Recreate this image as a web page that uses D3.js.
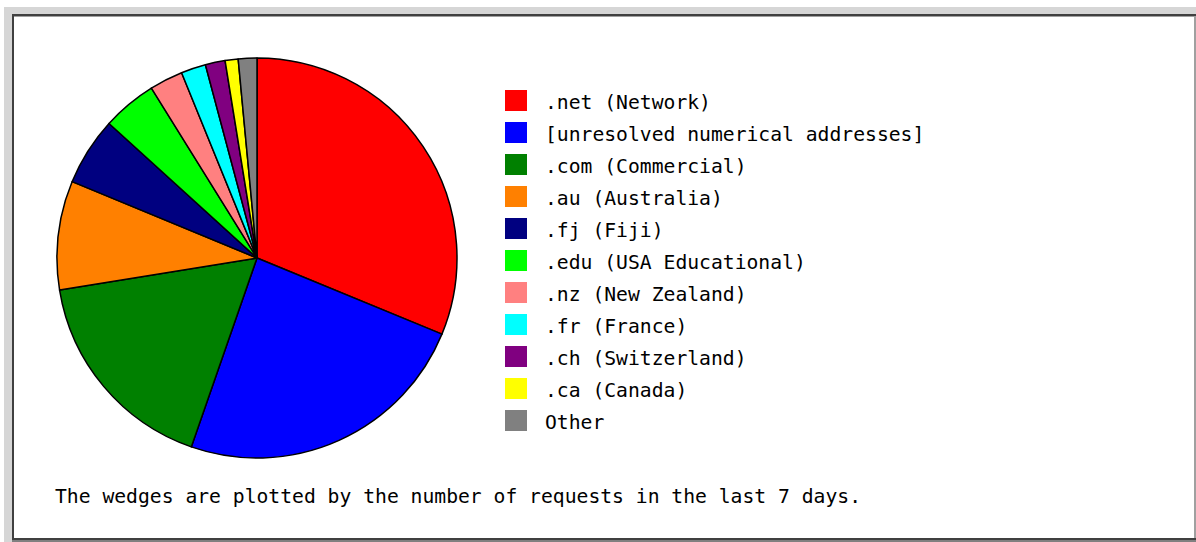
<!DOCTYPE html>
<html>
<head>
<meta charset="utf-8">
<script src="https://cdn.jsdelivr.net/npm/d3@7"></script>
<style>
  html, body { margin: 0; padding: 0; background: #fff; }
  svg { display: block; }
  text { font-family: "DejaVu Sans Mono", "Liberation Mono", monospace; }
</style>
</head>
<body>
<svg id="chart" width="1196" height="542"></svg>
<script>
const categories = [".net (Network)", "[unresolved numerical addresses]", ".com (Commercial)",
  ".au (Australia)", ".fj (Fiji)", ".edu (USA Educational)", ".nz (New Zealand)",
  ".fr (France)", ".ch (Switzerland)", ".ca (Canada)", "Other"];
const requests = [3120, 2410, 1710, 880, 550, 440, 270, 200, 160, 105, 150];
const colors = ["#ff0000", "#0000ff", "#008000", "#ff8000", "#000080", "#00ff00",
  "#ff8080", "#00ffff", "#800080", "#ffff00", "#808080"];
const caption = "The wedges are plotted by the number of requests in the last 7 days.";

const svg = d3.select("#chart");

// frame
svg.append("rect").attr("x", 0).attr("y", 0).attr("width", 1196).attr("height", 542).attr("fill", "#fff");
svg.append("rect").attr("x", 4).attr("y", 7).attr("width", 1192).attr("height", 535).attr("fill", "#d6d6d6");
svg.append("rect").attr("x", 12).attr("y", 14).attr("width", 1184).attr("height", 528).attr("fill", "#404040");
svg.append("rect").attr("x", 14).attr("y", 16.5).attr("width", 1180).attr("height", 521.5).attr("fill", "#fff");
svg.append("line").attr("x1", 1195).attr("x2", 1195).attr("y1", 16).attr("y2", 538)
  .attr("stroke", "#a0a0a0").attr("stroke-width", 2);
svg.append("rect").attr("x", 12).attr("y", 540).attr("width", 1184).attr("height", 2).attr("fill", "#808080");

// pie
const cx = 257, cy = 258, r = 200;
const pie = d3.pie().sort(null).value(d => d)(requests);
const arc = d3.arc().innerRadius(0).outerRadius(r);
const g = svg.append("g").attr("transform", `translate(${cx},${cy})`);
g.selectAll("path").data(pie).enter().append("path")
  .attr("d", arc)
  .attr("fill", (d, i) => colors[i])
  .attr("stroke", "#000")
  .attr("stroke-width", 1.5)
  .attr("stroke-linejoin", "round");

// legend
const y = d3.scalePoint().domain(categories).range([101, 421]);
const lg = svg.append("g");
const rows = lg.selectAll("g").data(categories).enter().append("g")
  .attr("transform", d => `translate(0,${y(d)})`);
rows.append("rect").attr("x", 505).attr("y", -11).attr("width", 22).attr("height", 21)
  .attr("fill", (d, i) => colors[i]);
rows.append("text").attr("x", 545).attr("y", 8)
  .attr("font-size", "19.7px").attr("fill", "#000").text(d => d);

svg.append("text").attr("x", 55).attr("y", 503)
  .attr("font-size", "19.7px").attr("fill", "#000").text(caption);
</script>
</body>
</html>
